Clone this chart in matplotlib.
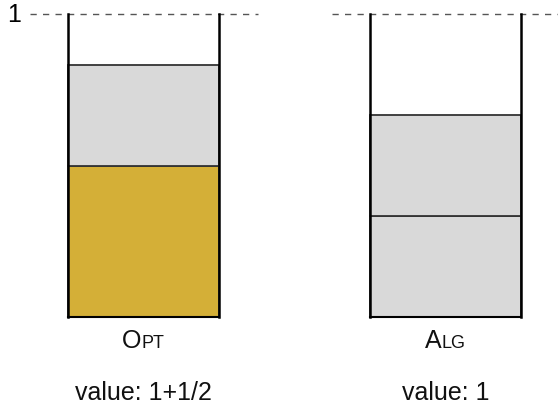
import matplotlib
matplotlib.use("Agg")
import matplotlib.pyplot as plt

plt.rcParams['font.family'] = ['Liberation Sans', 'DejaVu Sans']

bin_names = ["OPT", "ALG"]
bin_values = ["value: 1+1/2", "value: 1"]
opt_sizes = [0.5, 1/3]
opt_colors = ["#D4AF37", "#D9D9D9"]
alg_sizes = [1/3, 1/3]
alg_colors = ["#D9D9D9", "#D9D9D9"]
capacity = 1.0

fig = plt.figure(figsize=(5.58, 4.06), dpi=100)
ax = fig.add_axes([0, 0, 1, 1])
ax.set_xlim(0, 558)
ax.set_ylim(-(406 - 318) / 303, capacity + 15 / 303)
ax.axis('off')

bin_left = [68, 370]
bin_w = 151
dash_spans = [(30, 258), (332, 558)]

fig.canvas.draw()
r = fig.canvas.get_renderer()

for i, (sizes, colors) in enumerate([(opt_sizes, opt_colors), (alg_sizes, alg_colors)]):
    x0 = bin_left[i]
    bottom = 0
    for s, c in zip(sizes, colors):
        ax.bar(x0, s, width=bin_w, bottom=bottom, align='edge', color=c,
               edgecolor='#333333', linewidth=1.3, zorder=2)
        bottom += s
    ax.plot([x0, x0], [0, capacity], color='black', lw=1.8, zorder=3)
    ax.plot([x0 + bin_w, x0 + bin_w], [0, capacity], color='black', lw=1.8, zorder=3)
    ax.plot([x0, x0 + bin_w], [0, 0], color='black', lw=1.5, zorder=3)
    ax.plot(dash_spans[i], [capacity, capacity], color='#555555', lw=1.0,
            dashes=(4.5, 4.5), zorder=1)
    cx = x0 + bin_w / 2
    name = bin_names[i]
    y = -30 / 303
    a = ax.text(0, y, name[0], fontsize=18, va='baseline', color='#111111')
    b = ax.text(0, y, name[1:], fontsize=13, va='baseline', color='#111111')
    wa = a.get_window_extent(r).width
    wb = b.get_window_extent(r).width
    x_start = cx - (wa + wb) / 2
    a.set_x(x_start)
    b.set_x(x_start + wa)
    ax.text(cx, -75 / 303, bin_values[i], ha='center', va='center', fontsize=18,
            color='#111111')

ax.text(14, capacity, "1", ha='center', va='center', fontsize=18, color='black')

fig.savefig("out.png", dpi=100)
